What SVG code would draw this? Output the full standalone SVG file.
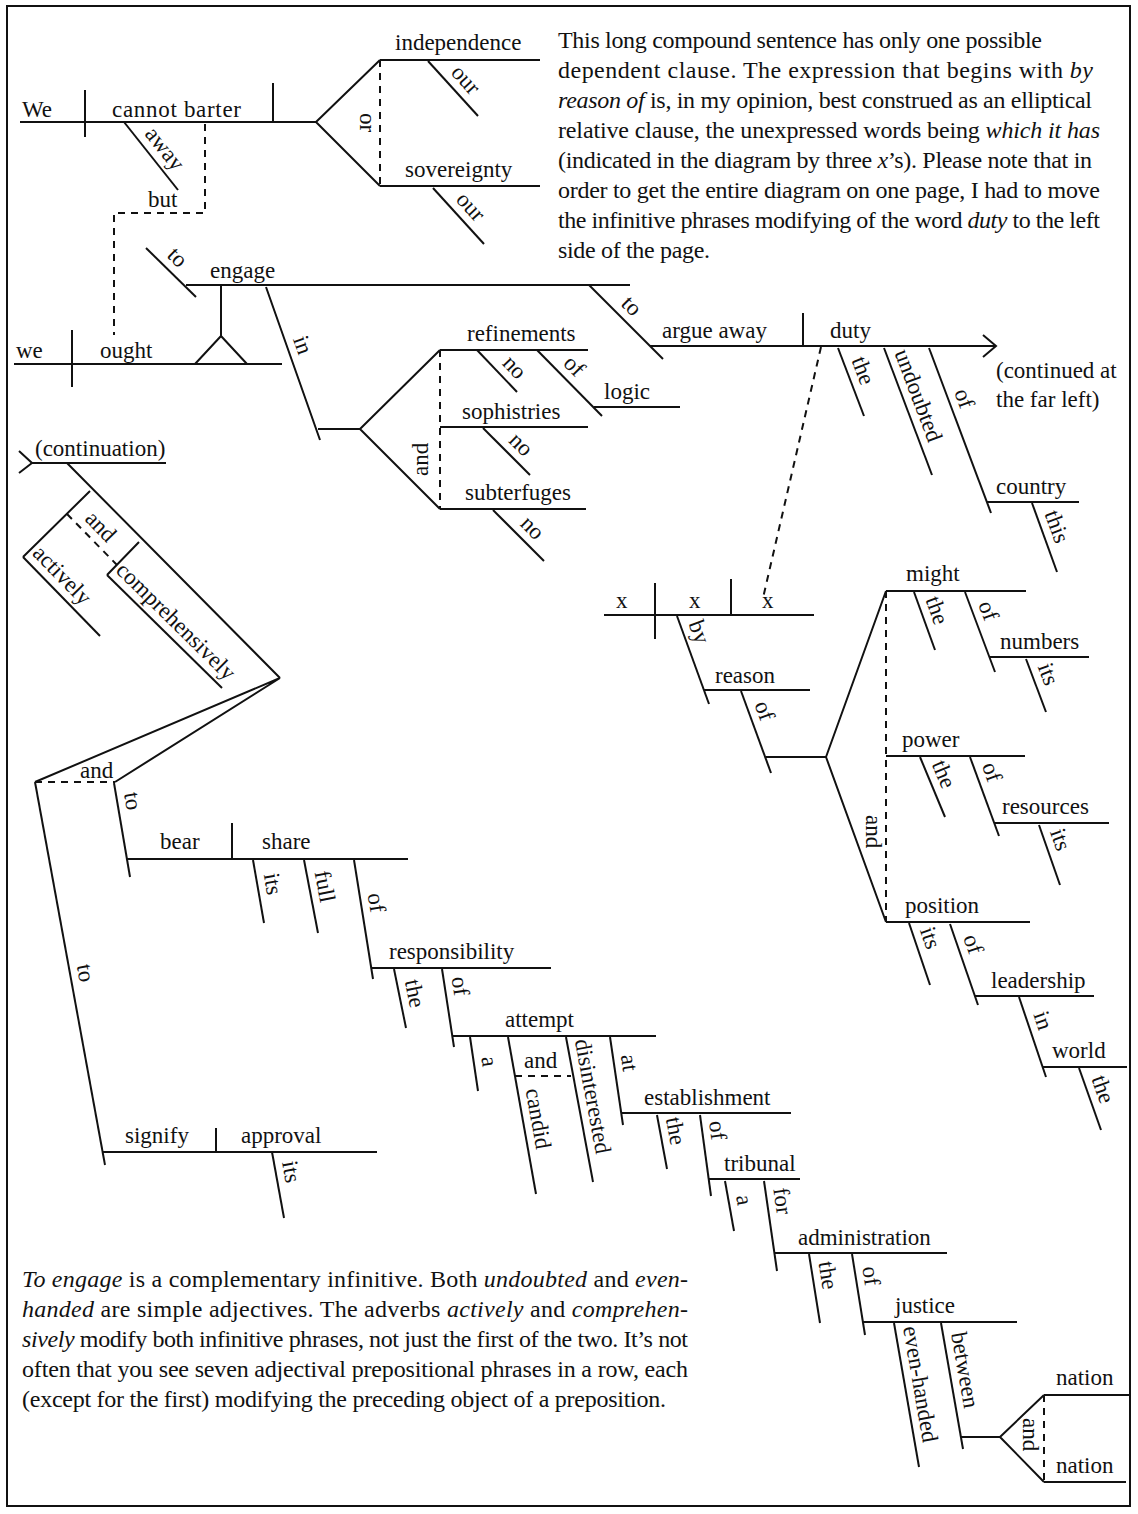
<svg xmlns="http://www.w3.org/2000/svg" width="1138" height="1514" viewBox="0 0 1138 1514">
<style>
.ln{stroke:#111;stroke-width:2;fill:none}
.ds{stroke:#111;stroke-width:2;fill:none;stroke-dasharray:7 6}
.w{font-family:"Liberation Serif","Times New Roman",serif;font-size:23px;fill:#111}
.p{font-family:"Liberation Serif","Times New Roman",serif;font-size:24px;fill:#111}
.i{font-style:italic}
</style>
<rect x="0" y="0" width="1138" height="1514" fill="#fff"/>
<rect x="7" y="6" width="1123" height="1500" fill="none" stroke="#111" stroke-width="2"/>

<g id="note-top">
<text class="p" x="558" y="48" textLength="484">This long compound sentence has only one possible</text>
<text class="p" x="558" y="78" textLength="535">dependent clause. The expression that begins with <tspan class="i">by</tspan></text>
<text class="p" x="558" y="108" textLength="534"><tspan class="i">reason of</tspan> is, in my opinion, best construed as an elliptical</text>
<text class="p" x="558" y="138" textLength="542">relative clause, the unexpressed words being <tspan class="i">which it has</tspan></text>
<text class="p" x="558" y="168" textLength="534">(indicated in the diagram by three <tspan class="i">x</tspan>’s). Please note that in</text>
<text class="p" x="558" y="198" textLength="542">order to get the entire diagram on one page, I had to move</text>
<text class="p" x="558" y="228" textLength="542">the infinitive phrases modifying of the word <tspan class="i">duty</tspan> to the left</text>
<text class="p" x="558" y="258" textLength="152">side of the page.</text>
</g>

<g id="note-bottom">
<text class="p" x="22" y="1287" textLength="666"><tspan class="i">To engage</tspan> is a complementary infinitive. Both <tspan class="i">undoubted</tspan> and <tspan class="i">even-</tspan></text>
<text class="p" x="22" y="1317" textLength="666"><tspan class="i">handed</tspan> are simple adjectives. The adverbs <tspan class="i">actively</tspan> and <tspan class="i">comprehen-</tspan></text>
<text class="p" x="22" y="1347" textLength="666"><tspan class="i">sively</tspan> modify both infinitive phrases, not just the first of the two. It’s not</text>
<text class="p" x="22" y="1377" textLength="666">often that you see seven adjectival prepositional phrases in a row, each</text>
<text class="p" x="22" y="1407" textLength="644">(except for the first) modifying the preceding object of a preposition.</text>
</g>

<g id="connectors">
<path class="ds" d="M205 124V213H114V335"/>
<text class="w" x="148" y="207">but</text>
<path class="ln" d="M316 122L380 60M316 122L380 186"/>
<path class="ds" d="M380 60V186"/>
<text class="w" transform="translate(360 113) rotate(90)">or</text>
<path class="ln" d="M221 285V336M221 336L195 364M221 336L247 364"/>
<path class="ln" d="M318 429H360M360 429L440 350M360 429L440 509"/>
<path class="ds" d="M440 350V509"/>
<text class="w" transform="translate(428 476) rotate(-90)">and</text>
<path class="ds" d="M821 347L763 598"/>
<path class="ln" d="M766 757H826M826 757L886 591M826 757L886 922"/>
<path class="ds" d="M886 591V922"/>
<text class="w" transform="translate(866 815) rotate(90)">and</text>
<path class="ln" d="M961 1437H1000M1000 1437L1044 1395M1000 1437L1044 1482"/>
<path class="ds" d="M1044 1395V1482"/>
<text class="w" transform="translate(1023 1418) rotate(90)">and</text>
<path class="ds" d="M515 1076H571"/>
<text class="w" x="524" y="1068">and</text>
<path class="ln" d="M67 463L280 678M90 491L23 557M139 542L107 575"/>
<path id="p-and-adv" class="ds" d="M67 514L117 565"/>
<text class="w" dy="-8"><textPath href="#p-and-adv" startOffset="16">and</textPath></text>
<path class="ln" d="M280 678L35 782M280 678L115 782"/>
<path class="ds" d="M35 782H115"/>
<text class="w" x="80" y="778">and</text>
</g>

<g id="n-we-cannot-barter">
<path class="ln" d="M20 122H316M85 90V137M273 83V122"/>
<text class="w" x="22" y="117">We</text>
<text class="w" x="112" y="117" textLength="129">cannot barter</text>
</g>
<g id="n-away"><path id="p-away" class="ln" d="M124 122L178 190"/><text class="w" dy="-8"><textPath href="#p-away" startOffset="22">away</textPath></text></g>
<g id="n-independence"><path class="ln" d="M380 60H540"/><text class="w" x="395" y="50">independence</text></g>
<g id="n-our1"><path id="p-our1" class="ln" d="M428 61L478 116"/><text class="w" dy="-8"><textPath href="#p-our1" startOffset="24">our</textPath></text></g>
<g id="n-sovereignty"><path class="ln" d="M380 186H540"/><text class="w" x="405" y="177">sovereignty</text></g>
<g id="n-our2"><path id="p-our2" class="ln" d="M433 188L484 244"/><text class="w" dy="-8"><textPath href="#p-our2" startOffset="24">our</textPath></text></g>

<g id="n-we-ought">
<path class="ln" d="M14 364H282M72 330V387"/>
<text class="w" x="16" y="358">we</text>
<text class="w" x="100" y="358">ought</text>
</g>
<g id="n-engage"><path class="ln" d="M186 285H630"/><text class="w" x="210" y="278">engage</text></g>
<g id="n-to-engage"><path id="p-to1" class="ln" d="M146 248L196 297"/><text class="w" dy="-8"><textPath href="#p-to1" startOffset="20">to</textPath></text></g>
<g id="n-in"><path id="p-in1" class="ln" d="M266 287L320 440"/><text class="w" dy="-8"><textPath href="#p-in1" startOffset="58">in</textPath></text></g>
<g id="n-refinements"><path class="ln" d="M440 350H588"/><text class="w" x="467" y="341">refinements</text></g>
<g id="n-no1"><path id="p-no1" class="ln" d="M477 350L517 392"/><text class="w" dy="-8"><textPath href="#p-no1" startOffset="27">no</textPath></text></g>
<g id="n-of-logic"><path id="p-of1" class="ln" d="M537 350L602 416"/><text class="w" dy="-8"><textPath href="#p-of1" startOffset="28">of</textPath></text></g>
<g id="n-logic"><path class="ln" d="M594 407H680"/><text class="w" x="604" y="399">logic</text></g>
<g id="n-sophistries"><path class="ln" d="M440 427H588"/><text class="w" x="462" y="419">sophistries</text></g>
<g id="n-no2"><path id="p-no2" class="ln" d="M483 428L530 475"/><text class="w" dy="-8"><textPath href="#p-no2" startOffset="27">no</textPath></text></g>
<g id="n-subterfuges"><path class="ln" d="M440 509H586"/><text class="w" x="465" y="500">subterfuges</text></g>
<g id="n-no3"><path id="p-no3" class="ln" d="M493 510L544 561"/><text class="w" dy="-8"><textPath href="#p-no3" startOffset="29">no</textPath></text></g>

<g id="n-to-argue"><path id="p-to2" class="ln" d="M589 285L663 359"/><text class="w" dy="-8"><textPath href="#p-to2" startOffset="36">to</textPath></text></g>
<g id="n-argue-duty">
<path class="ln" d="M650 346H995M803 313V346M983 335L996 346L983 357"/>
<text class="w" x="662" y="338">argue away</text>
<text class="w" x="830" y="338">duty</text>
<text class="w" x="996" y="378">(continued at</text>
<text class="w" x="996" y="407">the far left)</text>
</g>
<g id="n-the1"><path id="p-the1" class="ln" d="M838 348L864 416"/><text class="w" dy="-8"><textPath href="#p-the1" startOffset="16">the</textPath></text></g>
<g id="n-undoubted"><path id="p-undoubted" class="ln" d="M884 348L932 475"/><text class="w" dy="-8"><textPath href="#p-undoubted" startOffset="8">undoubted</textPath></text></g>
<g id="n-of-country"><path id="p-of2" class="ln" d="M929 348L991 513"/><text class="w" dy="-8"><textPath href="#p-of2" startOffset="50">of</textPath></text></g>
<g id="n-country"><path class="ln" d="M987 502H1079"/><text class="w" x="996" y="494">country</text></g>
<g id="n-this"><path id="p-this" class="ln" d="M1032 503L1057 572"/><text class="w" dy="-8"><textPath href="#p-this" startOffset="14">this</textPath></text></g>

<g id="n-xxx">
<path class="ln" d="M604 615H814M655 583V639M731 579V615"/>
<text class="w" x="616" y="608">x</text>
<text class="w" x="689" y="608">x</text>
<text class="w" x="762" y="608">x</text>
</g>
<g id="n-by"><path id="p-by" class="ln" d="M677 616L709 704"/><text class="w" dy="-8"><textPath href="#p-by" startOffset="11">by</textPath></text></g>
<g id="n-reason"><path class="ln" d="M704 690H810"/><text class="w" x="715" y="683">reason</text></g>
<g id="n-of-reason"><path id="p-of3" class="ln" d="M741 691L771 773"/><text class="w" dy="-8"><textPath href="#p-of3" startOffset="17">of</textPath></text></g>
<g id="n-might"><path class="ln" d="M886 591H1026"/><text class="w" x="906" y="581">might</text></g>
<g id="n-the2"><path id="p-the2" class="ln" d="M914 592L935 650"/><text class="w" dy="-8"><textPath href="#p-the2" startOffset="11">the</textPath></text></g>
<g id="n-of-numbers"><path id="p-of4" class="ln" d="M965 592L995 672"/><text class="w" dy="-8"><textPath href="#p-of4" startOffset="16">of</textPath></text></g>
<g id="n-numbers"><path class="ln" d="M990 657H1089"/><text class="w" x="1000" y="649">numbers</text></g>
<g id="n-its1"><path id="p-its1" class="ln" d="M1026 659L1046 712"/><text class="w" dy="-8"><textPath href="#p-its1" startOffset="11">its</textPath></text></g>
<g id="n-power"><path class="ln" d="M886 756H1025"/><text class="w" x="902" y="747">power</text></g>
<g id="n-the3"><path id="p-the3" class="ln" d="M920 757L945 817"/><text class="w" dy="-8"><textPath href="#p-the3" startOffset="11">the</textPath></text></g>
<g id="n-of-resources"><path id="p-of5" class="ln" d="M970 757L999 836"/><text class="w" dy="-8"><textPath href="#p-of5" startOffset="12">of</textPath></text></g>
<g id="n-resources"><path class="ln" d="M994 823H1109"/><text class="w" x="1002" y="814">resources</text></g>
<g id="n-its2"><path id="p-its2" class="ln" d="M1039 825L1060 885"/><text class="w" dy="-8"><textPath href="#p-its2" startOffset="10">its</textPath></text></g>
<g id="n-position"><path class="ln" d="M886 922H1030"/><text class="w" x="905" y="913">position</text></g>
<g id="n-its3"><path id="p-its3" class="ln" d="M909 923L930 985"/><text class="w" dy="-8"><textPath href="#p-its3" startOffset="10">its</textPath></text></g>
<g id="n-of-leadership"><path id="p-of6" class="ln" d="M950 924L978 1005"/><text class="w" dy="-8"><textPath href="#p-of6" startOffset="17">of</textPath></text></g>
<g id="n-leadership"><path class="ln" d="M975 996H1094"/><text class="w" x="991" y="988">leadership</text></g>
<g id="n-in-world"><path id="p-in2" class="ln" d="M1019 997L1046 1077"/><text class="w" dy="-8"><textPath href="#p-in2" startOffset="21">in</textPath></text></g>
<g id="n-world"><path class="ln" d="M1043 1067H1127"/><text class="w" x="1052" y="1058">world</text></g>
<g id="n-the4"><path id="p-the4" class="ln" d="M1079 1068L1101 1130"/><text class="w" dy="-8"><textPath href="#p-the4" startOffset="14">the</textPath></text></g>

<g id="n-continuation">
<path class="ln" d="M32 463H166M19 451L32 463L19 473"/>
<text class="w" x="35" y="456">(continuation)</text>
</g>
<g id="n-actively"><path id="p-actively" class="ln" d="M23 557L100 636"/><text class="w" dy="-8"><textPath href="#p-actively" startOffset="4">actively</textPath></text></g>
<g id="n-comprehensively"><path id="p-compr" class="ln" d="M107 575L222 688"/><text class="w" dy="-8"><textPath href="#p-compr" startOffset="3">comprehensively</textPath></text></g>

<g id="n-to-bear"><path id="p-to3" class="ln" d="M114 783L130 877"/><text class="w" dy="-8"><textPath href="#p-to3" startOffset="12">to</textPath></text></g>
<g id="n-bear-share">
<path class="ln" d="M127 859H408M232 823V859"/>
<text class="w" x="160" y="849">bear</text>
<text class="w" x="262" y="849">share</text>
</g>
<g id="n-its4"><path id="p-its4" class="ln" d="M253 860L264 923"/><text class="w" dy="-8"><textPath href="#p-its4" startOffset="16">its</textPath></text></g>
<g id="n-full"><path id="p-full" class="ln" d="M304 860L318 933"/><text class="w" dy="-8"><textPath href="#p-full" startOffset="14">full</textPath></text></g>
<g id="n-of-resp"><path id="p-of7" class="ln" d="M354 860L373 979"/><text class="w" dy="-8"><textPath href="#p-of7" startOffset="36">of</textPath></text></g>
<g id="n-responsibility"><path class="ln" d="M371 968H551"/><text class="w" x="389" y="959">responsibility</text></g>
<g id="n-the5"><path id="p-the5" class="ln" d="M394 969L406 1028"/><text class="w" dy="-8"><textPath href="#p-the5" startOffset="14">the</textPath></text></g>
<g id="n-of-attempt"><path id="p-of8" class="ln" d="M442 969L454 1047"/><text class="w" dy="-8"><textPath href="#p-of8" startOffset="10">of</textPath></text></g>
<g id="n-attempt"><path class="ln" d="M452 1036H656"/><text class="w" x="505" y="1027">attempt</text></g>
<g id="n-a1"><path id="p-a1" class="ln" d="M470 1037L478 1091"/><text class="w" dy="-8"><textPath href="#p-a1" startOffset="22">a</textPath></text></g>
<g id="n-candid"><path id="p-candid" class="ln" d="M508 1037L536 1194"/><text class="w" dy="-8"><textPath href="#p-candid" startOffset="55">candid</textPath></text></g>
<g id="n-disinterested"><path id="p-disint" class="ln" d="M566 1037L593 1182"/><text class="w" dy="-8"><textPath href="#p-disint" startOffset="5">disinterested</textPath></text></g>
<g id="n-at"><path id="p-at" class="ln" d="M610 1037L623 1125"/><text class="w" dy="-8"><textPath href="#p-at" startOffset="20">at</textPath></text></g>
<g id="n-establishment"><path class="ln" d="M622 1113H791"/><text class="w" x="644" y="1105">establishment</text></g>
<g id="n-the6"><path id="p-the6" class="ln" d="M657 1115L667 1169"/><text class="w" dy="-8"><textPath href="#p-the6" startOffset="5">the</textPath></text></g>
<g id="n-of-tribunal"><path id="p-of9" class="ln" d="M700 1115L711 1196"/><text class="w" dy="-8"><textPath href="#p-of9" startOffset="8">of</textPath></text></g>
<g id="n-tribunal"><path class="ln" d="M709 1179H800"/><text class="w" x="724" y="1171">tribunal</text></g>
<g id="n-a2"><path id="p-a2" class="ln" d="M725 1181L734 1231"/><text class="w" dy="-8"><textPath href="#p-a2" startOffset="17">a</textPath></text></g>
<g id="n-for"><path id="p-for" class="ln" d="M764 1181L777 1271"/><text class="w" dy="-8"><textPath href="#p-for" startOffset="9">for</textPath></text></g>
<g id="n-administration"><path class="ln" d="M775 1253H947"/><text class="w" x="798" y="1245">administration</text></g>
<g id="n-the7"><path id="p-the7" class="ln" d="M809 1254L820 1323"/><text class="w" dy="-8"><textPath href="#p-the7" startOffset="10">the</textPath></text></g>
<g id="n-of-justice"><path id="p-of10" class="ln" d="M852 1254L865 1335"/><text class="w" dy="-8"><textPath href="#p-of10" startOffset="15">of</textPath></text></g>
<g id="n-justice"><path class="ln" d="M863 1322H1017"/><text class="w" x="895" y="1313">justice</text></g>
<g id="n-even-handed"><path id="p-even" class="ln" d="M894 1323L919 1467"/><text class="w" dy="-8"><textPath href="#p-even" startOffset="6">even-handed</textPath></text></g>
<g id="n-between"><path id="p-between" class="ln" d="M941 1323L963 1449"/><text class="w" dy="-8"><textPath href="#p-between" startOffset="12">between</textPath></text></g>
<g id="n-nation1"><path class="ln" d="M1044 1395H1129"/><text class="w" x="1056" y="1385">nation</text></g>
<g id="n-nation2"><path class="ln" d="M1044 1482H1126"/><text class="w" x="1056" y="1473">nation</text></g>

<g id="n-to-signify"><path id="p-to4" class="ln" d="M35 782L105 1165"/><text class="w" dy="-8"><textPath href="#p-to4" startOffset="188">to</textPath></text></g>
<g id="n-signify-approval">
<path class="ln" d="M103 1152H377M216 1128V1152"/>
<text class="w" x="125" y="1143">signify</text>
<text class="w" x="241" y="1143">approval</text>
</g>
<g id="n-its5"><path id="p-its5" class="ln" d="M272 1152L284 1218"/><text class="w" dy="-8"><textPath href="#p-its5" startOffset="12">its</textPath></text></g>
</svg>
